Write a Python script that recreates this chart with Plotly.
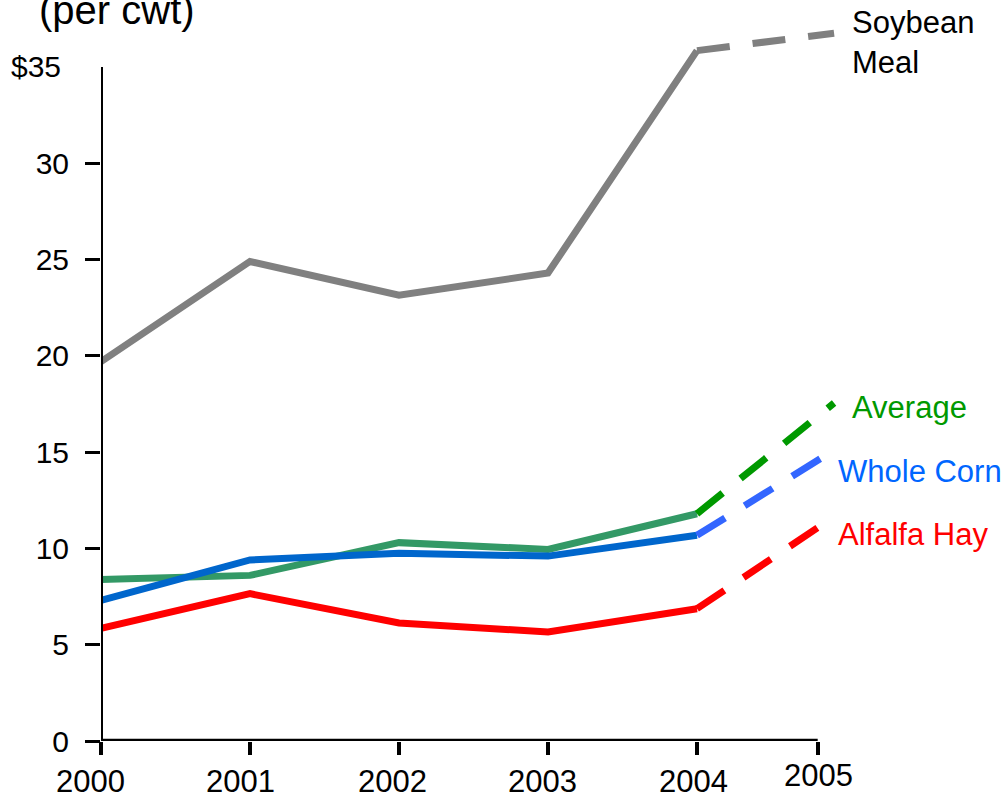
import plotly.graph_objects as go

# Feed prices, dollars per hundredweight
years = [2000, 2001, 2002, 2003, 2004]
proj_years = [2004, 2004.92]          # 2004 actual -> 2005 projection

soybean_meal = [19.7, 24.9, 23.15, 24.3, 35.85]
average = [8.38, 8.6, 10.3, 9.95, 11.8]
whole_corn = [7.3, 9.4, 9.75, 9.6, 10.68]
alfalfa_hay = [5.85, 7.65, 6.13, 5.66, 6.87]

soybean_2005 = 36.75
average_2005 = 17.55
whole_corn_2005 = 15.1
alfalfa_hay_2005 = 11.65

tick_years = [2000, 2001, 2002, 2003, 2004, 2004.81]
tick_text = ["2000", "2001", "2002", "2003", "2004", "2005"]
y_ticks = [0, 5, 10, 15, 20, 25, 30]
y_top_label = "$35"

FONT = "Arial, Liberation Sans, sans-serif"
LW = 7
DASH = "33px,23px"

series = [
    # name, actual values, projected value, solid colour, dashed colour
    ("Soybean Meal", soybean_meal, soybean_2005, "#808080", "#808080"),
    ("Average", average, average_2005, "#339966", "#009900"),
    ("Whole Corn", whole_corn, whole_corn_2005, "#0066CC", "#3366FF"),
    ("Alfalfa Hay", alfalfa_hay, alfalfa_hay_2005, "#FF0000", "#FF0000"),
]

fig = go.Figure()
for name, vals, _, solid, _ in series:
    fig.add_trace(go.Scatter(x=years, y=vals, mode="lines", name=name,
                             line=dict(color=solid, width=LW), showlegend=False))
for name, vals, proj, _, dashed in series:
    fig.add_trace(go.Scatter(x=proj_years, y=[vals[-1], proj], mode="lines",
                             name=name + " 2005",
                             line=dict(color=dashed, width=LW, dash=DASH),
                             showlegend=False))

# Axis lines: vertical one stops at $35, horizontal one at the 2005 tick
fig.add_shape(type="line", xref="x", yref="y", x0=2000, x1=tick_years[-1],
              y0=0, y1=0, line=dict(color="black", width=4.5), layer="above")
fig.add_shape(type="line", xref="x", yref="y", x0=2000, x1=2000,
              y0=0, y1=35, line=dict(color="black", width=4), layer="above")

# Year labels under the ticks (slightly staggered, 2005 sits a bit higher)
label_xshift = [-11, -10, -7, -6, -4, 1]
label_yshift = [-40, -40, -40, -40, -40, -34]
for x, t, dx, dy in zip(tick_years, tick_text, label_xshift, label_yshift):
    fig.add_annotation(x=x, y=0, xref="x", yref="y", text=t, showarrow=False,
                       xanchor="center", yanchor="middle", xshift=dx, yshift=dy,
                       font=dict(family=FONT, size=31, color="black"))

labels = [
    ("Soybean<br>Meal", 2005.03, 36.25, "black"),
    ("Average", 2005.03, 17.3, "#009900"),
    ("Whole Corn", 2004.93, 14.02, "#0066FF"),
    ("Alfalfa Hay", 2004.93, 10.7, "#FF0000"),
]
for text, x, y, col in labels:
    fig.add_annotation(x=x, y=y, xref="x", yref="y", text=text, showarrow=False,
                       xanchor="left", yanchor="middle", align="left",
                       font=dict(family=FONT, size=31, color=col))

fig.add_annotation(x=2000, y=35, xref="x", yref="y", text=y_top_label,
                   showarrow=False, xanchor="right", yanchor="middle", xshift=-38,
                   font=dict(family=FONT, size=30, color="black"))
fig.add_annotation(x=-0.072, y=0.9986, xref="paper", yref="paper", text="(per cwt)",
                   showarrow=False, xanchor="left", yanchor="middle",
                   font=dict(family=FONT, size=40, color="black"))

fig.update_layout(
    width=1005, height=798,
    margin=dict(l=101, r=10, t=9, b=57),
    paper_bgcolor="white", plot_bgcolor="white",
    font=dict(family=FONT, size=30, color="black"),
)
fig.update_xaxes(range=[2000, 2006], tickvals=tick_years, showticklabels=False,
                 showgrid=False, zeroline=False, showline=False, automargin=False,
                 ticks="outside", ticklen=13, tickwidth=3.5, tickcolor="black")
fig.update_yaxes(range=[0, 38.01], tickvals=y_ticks, showgrid=False, zeroline=False,
                 showline=False, automargin=False,
                 ticks="outside", ticklen=15, tickwidth=3, tickcolor="black",
                 ticklabelstandoff=10,
                 tickfont=dict(family=FONT, size=30, color="black"))

fig.write_html("out.html")
